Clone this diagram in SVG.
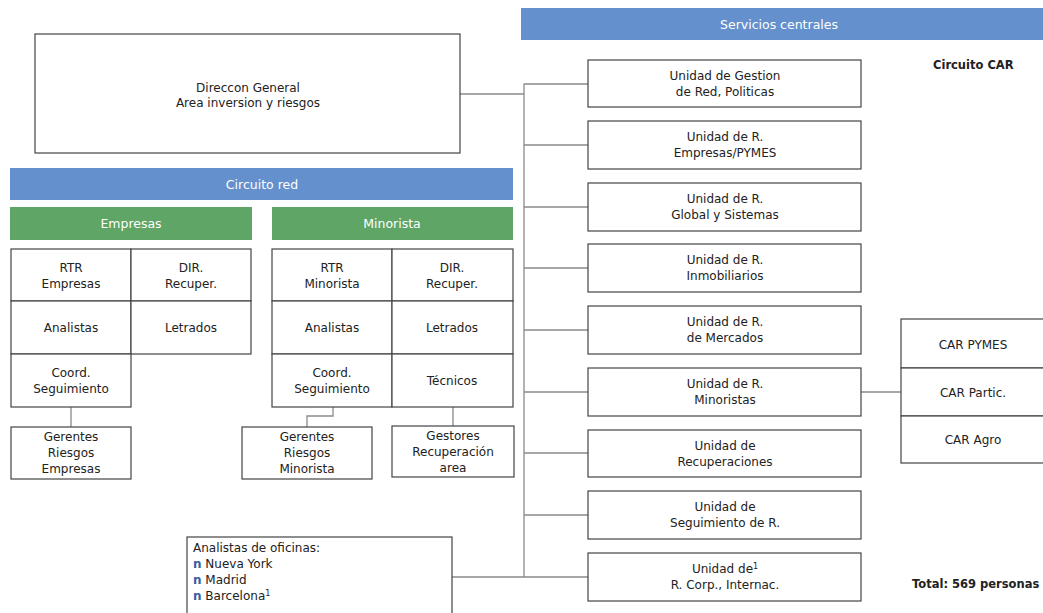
<svg xmlns="http://www.w3.org/2000/svg" width="1043" height="613" viewBox="0 0 1043 613">
<style>
text{font-family:"DejaVu Sans","Liberation Sans",sans-serif;font-size:12px;fill:#222;text-anchor:middle}
.box{fill:#fff;stroke:#444;stroke-width:1.2}
.hdr{fill:#fff;text-anchor:middle;font-size:12.5px}
.blue{fill:#6490cd}
.green{fill:#5ea566}
.conn{stroke:#8a8a8a;stroke-width:1.3;fill:none}
.b{font-weight:bold;text-anchor:start;font-size:11.5px}
.l{text-anchor:start}
.bul{fill:#3a5fa0;font-weight:bold}
</style>
<rect width="1043" height="613" fill="#fff"/>
<g id="connectors">
<path class="conn" d="M460 94H524M524 83.5V577M524 84H588M524 145H588M524 207H588M524 268H588M524 330H588M524 392H588M524 453H588M524 515H588M524 577H588M452 577H524M861 392H901M71 407V427M333 407V416H307V427M453 407V426"/>
</g>
<g id="direccion"><rect class="box" x="35" y="34" width="425" height="119"/><text x="248" y="92">Direccon General</text><text x="248" y="107">Area inversion y riesgos</text></g>
<g id="servicios"><rect class="blue" x="521" y="8" width="522" height="32"/><text class="hdr" x="779" y="29">Servicios centrales</text></g>
<g id="circuito-red"><rect class="blue" x="10" y="168" width="503" height="32"/><text class="hdr" x="262" y="189">Circuito red</text></g>
<g id="empresas"><rect class="green" x="10" y="207" width="242" height="33"/><text class="hdr" x="131" y="228">Empresas</text></g>
<g id="minorista"><rect class="green" x="272" y="207" width="241" height="33"/><text class="hdr" x="392" y="228">Minorista</text></g>
<g id="rtr-empresas"><rect class="box" x="11" y="249" width="120" height="52"/><text x="71" y="272">RTR</text><text x="71" y="288">Empresas</text></g>
<g id="dir-empresas"><rect class="box" x="131" y="249" width="120" height="52"/><text x="191" y="272">DIR.</text><text x="191" y="288">Recuper.</text></g>
<g id="analistas-empresas"><rect class="box" x="11" y="301" width="120" height="53"/><text x="71" y="332">Analistas</text></g>
<g id="letrados-empresas"><rect class="box" x="131" y="301" width="120" height="53"/><text x="191" y="332">Letrados</text></g>
<g id="coord-empresas"><rect class="box" x="11" y="354" width="120" height="53"/><text x="71" y="377">Coord.</text><text x="71" y="393">Seguimiento</text></g>
<g id="rtr-minorista"><rect class="box" x="272" y="249" width="120" height="52"/><text x="332" y="272">RTR</text><text x="332" y="288">Minorista</text></g>
<g id="dir-minorista"><rect class="box" x="392" y="249" width="121" height="52"/><text x="452" y="272">DIR.</text><text x="452" y="288">Recuper.</text></g>
<g id="analistas-minorista"><rect class="box" x="272" y="301" width="120" height="53"/><text x="332" y="332">Analistas</text></g>
<g id="letrados-minorista"><rect class="box" x="392" y="301" width="121" height="53"/><text x="452" y="332">Letrados</text></g>
<g id="coord-minorista"><rect class="box" x="272" y="354" width="120" height="53"/><text x="332" y="377">Coord.</text><text x="332" y="393">Seguimiento</text></g>
<g id="tecnicos"><rect class="box" x="392" y="354" width="121" height="53"/><text x="452" y="385">Técnicos</text></g>
<g id="gerentes-empresas"><rect class="box" x="11" y="427" width="120" height="52"/><text x="71" y="441">Gerentes</text><text x="71" y="457">Riesgos</text><text x="71" y="473">Empresas</text></g>
<g id="gerentes-minorista"><rect class="box" x="242" y="427" width="130" height="52"/><text x="307" y="441">Gerentes</text><text x="307" y="457">Riesgos</text><text x="307" y="473">Minorista</text></g>
<g id="gestores"><rect class="box" x="392" y="426" width="122" height="51"/><text x="453" y="440">Gestores</text><text x="453" y="456">Recuperación</text><text x="453" y="472">area</text></g>
<g id="u1"><rect class="box" x="588" y="60" width="273" height="47"/><text x="725" y="80">Unidad de Gestion</text><text x="725" y="96">de Red, Politicas</text></g>
<g id="u2"><rect class="box" x="588" y="121" width="273" height="48"/><text x="725" y="141">Unidad de R.</text><text x="725" y="157">Empresas/PYMES</text></g>
<g id="u3"><rect class="box" x="588" y="183" width="273" height="48"/><text x="725" y="203">Unidad de R.</text><text x="725" y="219">Global y Sistemas</text></g>
<g id="u4"><rect class="box" x="588" y="244" width="273" height="48"/><text x="725" y="264">Unidad de R.</text><text x="725" y="280">Inmobiliarios</text></g>
<g id="u5"><rect class="box" x="588" y="306" width="273" height="48"/><text x="725" y="326">Unidad de R.</text><text x="725" y="342">de Mercados</text></g>
<g id="u6"><rect class="box" x="588" y="368" width="273" height="48"/><text x="725" y="388">Unidad de R.</text><text x="725" y="404">Minoristas</text></g>
<g id="u7"><rect class="box" x="588" y="430" width="273" height="47"/><text x="725" y="450">Unidad de</text><text x="725" y="466">Recuperaciones</text></g>
<g id="u8"><rect class="box" x="588" y="491" width="273" height="48"/><text x="725" y="511">Unidad de</text><text x="725" y="527">Seguimiento de R.</text></g>
<g id="u9"><rect class="box" x="588" y="553" width="273" height="48"/><text x="725" y="573">Unidad de<tspan font-size="8" dy="-4">1</tspan></text><text x="725" y="589">R. Corp., Internac.</text></g>
<g id="car-pymes"><rect class="box" x="901" y="319" width="150" height="49"/><text x="973" y="349">CAR PYMES</text></g>
<g id="car-partic"><rect class="box" x="901" y="368" width="150" height="48"/><text x="973" y="397">CAR Partic.</text></g>
<g id="car-agro"><rect class="box" x="901" y="416" width="150" height="47"/><text x="973" y="444">CAR Agro</text></g>
<g id="analistas-oficinas"><rect class="box" x="187" y="537" width="265" height="85"/>
<text class="l" x="193" y="552">Analistas de oficinas:</text>
<text class="l" x="193" y="568"><tspan class="bul">n</tspan> Nueva York</text>
<text class="l" x="193" y="584"><tspan class="bul">n</tspan> Madrid</text>
<text class="l" x="193" y="600"><tspan class="bul">n</tspan> Barcelona<tspan font-size="8" dy="-4">1</tspan></text></g>
<text class="b" x="933" y="69">Circuito CAR</text>
<text class="b" x="912" y="588">Total: 569 personas</text>
</svg>
